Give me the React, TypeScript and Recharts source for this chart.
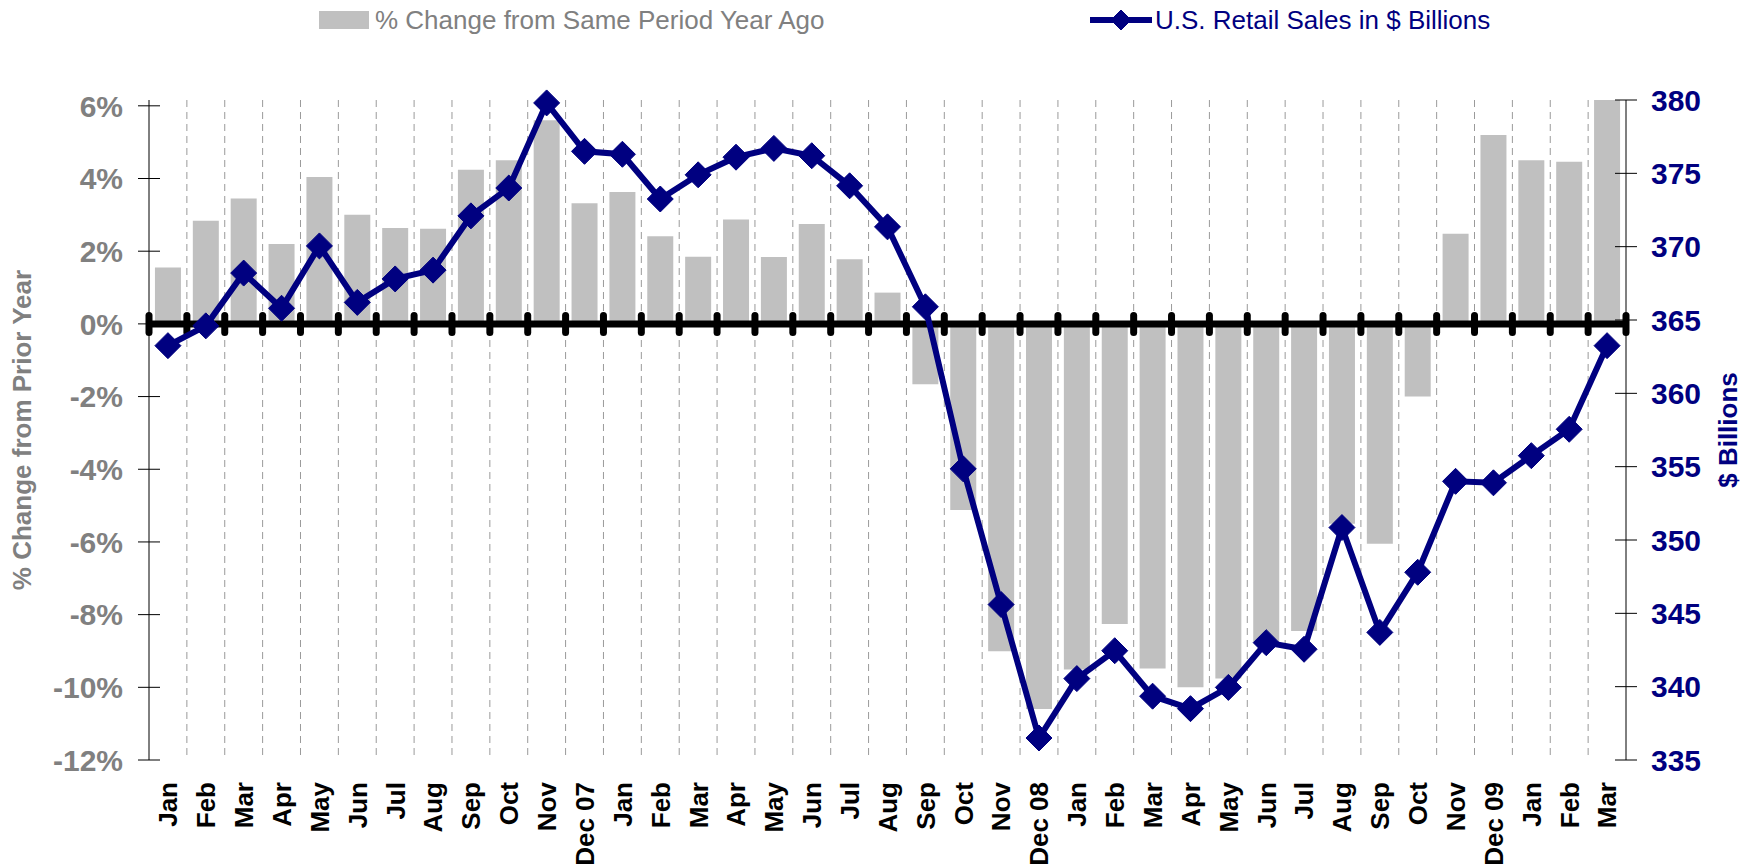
import React from "react";
import {
  ComposedChart,
  Bar,
  Line,
  XAxis,
  YAxis,
  CartesianGrid,
  ReferenceLine,
  Label,
} from "recharts";

const months = [
  "Jan", "Feb", "Mar", "Apr", "May", "Jun", "Jul", "Aug", "Sep", "Oct", "Nov", "Dec 07",
  "Jan", "Feb", "Mar", "Apr", "May", "Jun", "Jul", "Aug", "Sep", "Oct", "Nov", "Dec 08",
  "Jan", "Feb", "Mar", "Apr", "May", "Jun", "Jul", "Aug", "Sep", "Oct", "Nov", "Dec 09",
  "Jan", "Feb", "Mar",
];

// % change from same period a year ago (bars, left axis)
const pctChange = [
  1.55, 2.84, 3.45, 2.2, 4.04, 3.0, 2.64, 2.62, 4.24, 4.5, 5.6, 3.32,
  3.63, 2.41, 1.85, 2.87, 1.84, 2.75, 1.78, 0.86, -1.66, -5.12, -9.01, -10.6,
  -9.51, -8.26, -9.48, -10.0, -9.76, -8.75, -8.45, -5.5, -6.05, -2.0, 2.48, 5.2,
  4.5, 4.46, 6.16,
];

// U.S. retail sales in $ billions (line, right axis)
const sales = [
  363.25, 364.6, 368.2, 365.8, 370.05, 366.2, 367.8, 368.4, 372.1, 374.0, 379.8, 376.5,
  376.3, 373.25, 374.9, 376.1, 376.7, 376.2, 374.15, 371.35, 365.9, 354.85, 345.6, 336.5,
  340.55, 342.45, 339.35, 338.5, 339.95, 343.0, 342.55, 350.85, 343.7, 347.8, 354.0, 353.9,
  355.75, 357.55, 363.25,
];

const pctTicks = [-12, -10, -8, -6, -4, -2, 0, 2, 4, 6];
const salesTicks = [335, 340, 345, 350, 355, 360, 365, 370, 375, 380];

const data = months.map((m, i) => ({ month: m, pct: pctChange[i], sales: sales[i] }));

const FONT = "'Liberation Sans', Arial, sans-serif";
const NAVY = "#000080";
const GREY = "#808080";
const BAR = "#C0C0C0";

const MonthTick = (props: any) => {
  const { x, y, payload } = props;
  return (
    <text
      x={x}
      y={y}
      transform={`rotate(-90, ${x}, ${y})`}
      textAnchor="end"
      dy="0.36em"
      fontFamily={FONT}
      fontWeight="bold"
      fontSize={26}
      fill="#000"
    >
      {payload.value}
    </text>
  );
};

const LeftTick = (props: any) => {
  const { x, y, payload } = props;
  const ax = x + 26;
  return (
    <g>
      <line x1={ax - 11} x2={ax + 11} y1={y} y2={y} stroke="#000" strokeWidth={1} />
      <text x={x} y={y} dy="0.36em" textAnchor="end" fontFamily={FONT} fontWeight="bold" fontSize={30} fill={GREY}>
        {payload.value}%
      </text>
    </g>
  );
};

const RightTick = (props: any) => {
  const { x, y, payload } = props;
  const ax = x - 25;
  return (
    <g>
      <line x1={ax - 11} x2={ax + 11} y1={y} y2={y} stroke="#000" strokeWidth={1} />
      <text x={x} y={y} dy="0.36em" textAnchor="start" fontFamily={FONT} fontWeight="bold" fontSize={30} fill={NAVY}>
        {payload.value}
      </text>
    </g>
  );
};

const Diamond = ({ cx, cy, r = 13 }: { cx: number; cy: number; r?: number }) => (
  <polygon
    points={`${cx},${cy - r} ${cx + r},${cy} ${cx},${cy + r} ${cx - r},${cy}`}
    fill={NAVY}
    stroke={NAVY}
    strokeWidth={1}
  />
);

// thick zero line with a tick mark at every category boundary
const ZeroLine = (props: any) => {
  const { x1, x2, y1 } = props;
  const n = months.length;
  const step = (x2 - x1) / n;
  const marks = [];
  for (let i = 0; i <= n; i++) {
    marks.push(<rect key={i} x={x1 + i * step - 3.5} y={y1 - 12} width={7} height={24} rx={3.5} fill="#000" />);
  }
  return (
    <g>
      <line x1={x1} x2={x2} y1={y1} y2={y1} stroke="#000" strokeWidth={7} />
      {marks}
    </g>
  );
};

const gridX = ({ offset }: any) => {
  const n = months.length;
  const out: number[] = [];
  for (let i = 1; i < n; i++) out.push(offset.left + (i * offset.width) / n);
  return out;
};

export default function App() {
  return (
    <div style={{ position: "absolute", left: 0, top: 0, width: 1753, height: 867, background: "#fff" }}>
      <svg width={1753} height={60} style={{ position: "absolute", left: 0, top: 0 }}>
        <rect x={319} y={11} width={50} height={18} fill={BAR} />
        <text x={375} y={20} dy="0.36em" fontFamily={FONT} fontSize={26} fill={GREY}>
          % Change from Same Period Year Ago
        </text>
        <line x1={1090} x2={1152} y1={20} y2={20} stroke={NAVY} strokeWidth={6} />
        <Diamond cx={1121} cy={20} r={10} />
        <text x={1155} y={20} dy="0.36em" fontFamily={FONT} fontSize={26} fill={NAVY}>
          U.S. Retail Sales in $ Billions
        </text>
      </svg>
      <div style={{ position: "absolute", left: 0, top: 0 }}>
        <ComposedChart
          width={1753}
          height={867}
          data={data}
          margin={{ top: 100, right: 0, bottom: 0, left: 0 }}
          barCategoryGap="15.7%"
        >
          <CartesianGrid
            horizontal={false}
            vertical
            stroke="#9a9a9a"
            strokeDasharray="7 5"
            verticalCoordinatesGenerator={gridX}
          />
          <XAxis
            dataKey="month"
            interval={0}
            height={107}
            axisLine={false}
            tickLine={false}
            tickSize={0}
            tickMargin={22}
            tick={<MonthTick />}
          />
          <YAxis
            yAxisId="left"
            orientation="left"
            width={149}
            domain={[-12, 6]}
            ticks={pctTicks}
            interval={0}
            axisLine={{ stroke: "#000", strokeWidth: 1 }}
            tickLine={false}
            tickSize={0}
            tickMargin={26}
            tick={<LeftTick />}
          >
            <Label
              content={(p: any) => {
                const vb = p.viewBox;
                const cx = 22;
                const cy = vb.y + vb.height / 2;
                return (
                  <text
                    x={cx}
                    y={cy}
                    transform={`rotate(-90, ${cx}, ${cy})`}
                    textAnchor="middle"
                    dy="0.36em"
                    fontFamily={FONT}
                    fontWeight="bold"
                    fontSize={26}
                    fill={GREY}
                  >
                    % Change from Prior Year
                  </text>
                );
              }}
            />
          </YAxis>
          <YAxis
            yAxisId="right"
            orientation="right"
            width={127}
            domain={[335, 380]}
            ticks={salesTicks}
            interval={0}
            axisLine={{ stroke: "#000", strokeWidth: 1 }}
            tickLine={false}
            tickSize={0}
            tickMargin={25}
            tick={<RightTick />}
          >
            <Label
              content={(p: any) => {
                const vb = p.viewBox;
                const cx = vb.x + 102;
                const cy = vb.y + vb.height / 2;
                return (
                  <text
                    x={cx}
                    y={cy}
                    transform={`rotate(-90, ${cx}, ${cy})`}
                    textAnchor="middle"
                    dy="0.36em"
                    fontFamily={FONT}
                    fontWeight="bold"
                    fontSize={26}
                    fill={NAVY}
                  >
                    $ Billions
                  </text>
                );
              }}
            />
          </YAxis>
          <Bar yAxisId="left" dataKey="pct" fill={BAR} isAnimationActive={false} />
          <ReferenceLine yAxisId="left" y={0} shape={<ZeroLine />} />
          <Line
            yAxisId="right"
            type="linear"
            dataKey="sales"
            stroke={NAVY}
            strokeWidth={6}
            isAnimationActive={false}
            dot={(p: any) => <Diamond key={`d-${p.index}`} cx={p.cx} cy={p.cy} />}
            activeDot={false}
          />
        </ComposedChart>
      </div>
    </div>
  );
}
